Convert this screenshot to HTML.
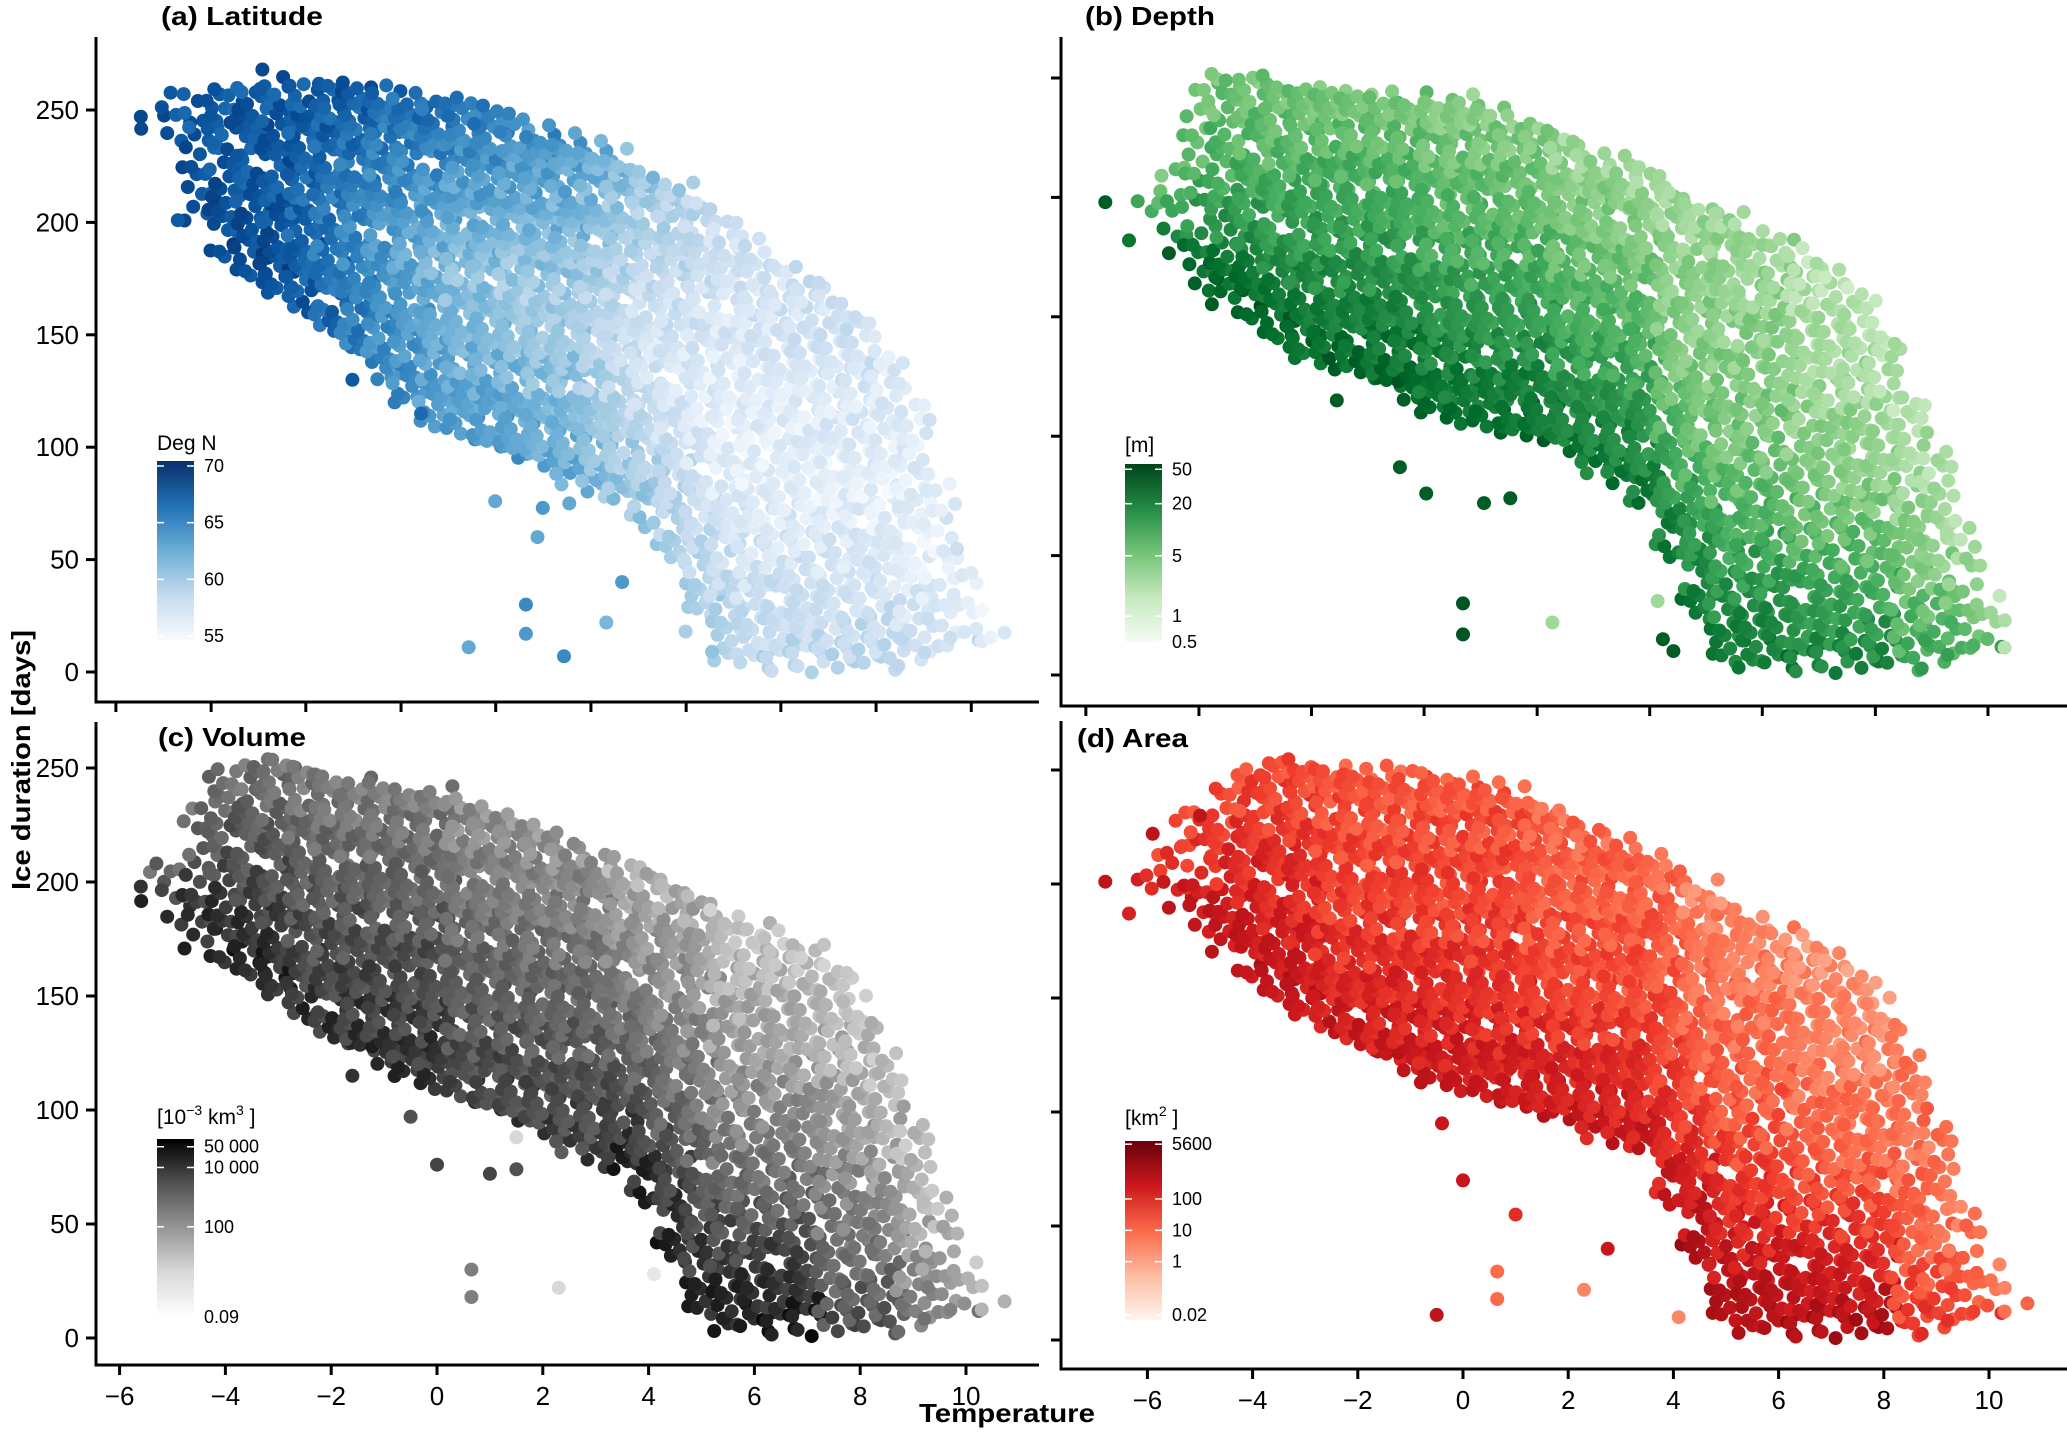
<!DOCTYPE html>
<html><head><meta charset="utf-8"><title>Ice duration vs temperature</title>
<style>
html,body{margin:0;padding:0;background:#fff;}
svg{display:block;font-family:"Liberation Sans",sans-serif;}
</style></head>
<body>
<svg id="chart" xmlns="http://www.w3.org/2000/svg" width="2067" height="1433" viewBox="0 0 2067 1433">
<defs>
<linearGradient id="gBlues" x1="0" y1="1" x2="0" y2="0"><stop offset="0" stop-color="#f7fbff"/><stop offset="0.25" stop-color="#c6dbef"/><stop offset="0.5" stop-color="#6baed6"/><stop offset="0.75" stop-color="#2171b5"/><stop offset="1" stop-color="#08306b"/></linearGradient>
<linearGradient id="gGreens" x1="0" y1="1" x2="0" y2="0"><stop offset="0" stop-color="#f7fcf5"/><stop offset="0.25" stop-color="#c7e9c0"/><stop offset="0.5" stop-color="#74c476"/><stop offset="0.75" stop-color="#238b45"/><stop offset="1" stop-color="#00441b"/></linearGradient>
<linearGradient id="gGreys" x1="0" y1="1" x2="0" y2="0"><stop offset="0" stop-color="#ffffff"/><stop offset="0.25" stop-color="#d9d9d9"/><stop offset="0.5" stop-color="#969696"/><stop offset="0.75" stop-color="#525252"/><stop offset="1" stop-color="#000000"/></linearGradient>
<linearGradient id="gReds" x1="0" y1="1" x2="0" y2="0"><stop offset="0" stop-color="#fff5f0"/><stop offset="0.25" stop-color="#fcbba1"/><stop offset="0.5" stop-color="#fb6a4a"/><stop offset="0.75" stop-color="#cb181d"/><stop offset="1" stop-color="#67000d"/></linearGradient>
</defs>
<g id="points"></g>
<g id="axes"></g>
<text x="919" y="1422" font-size="26" font-weight="bold" textLength="176" lengthAdjust="spacingAndGlyphs">Temperature</text>
<text transform="translate(30,890) rotate(-90)" font-size="26" font-weight="bold" textLength="260" lengthAdjust="spacingAndGlyphs">Ice duration [days]</text>
</svg>
<script>
// ---- data: temperature bins (°C) ----
const tBins=[-6,-5.5,-5,-4.5,-4,-3.5,-3,-2.5,-2,-1.5,-1,-0.5,0,0.5,1,1.5,2,2.5,3,3.5,4,4.5,5,5.5,6,6.5,7,7.5,8,8.5,9,9.5,10,10.5];
const yTicks=[0,50,100,150,200,250];
const xTicksLabeled=[-6,-4,-2,0,2,4,6,8,10];
const aXTicks=[-6.07,-4.27,-2.48,-0.68,1.11,2.91,4.71,6.50,8.30,10.10];
const bXTicks=[-7.17,-5.02,-2.88,-0.74,1.41,3.55,5.69,7.84,9.98];

// panel a: latitude
const aLo=[0,240,235,200,185,175,168,160,150,140,130,120,110,105,100,95,90,85,80,75,65,50,25,5,2,2,2,2,2,2,5,8,10,8];
const aHi=[0,250,258,258,262,262,262,262,262,262,260,258,256,254,250,246,242,238,234,230,224,218,210,202,193,183,175,168,158,142,120,85,55,25];
const aDen=[0,0.3,0.4,0.55,0.75,0.9,1,1,1,1,1,1,1,1,1,1,1,1,1,1,1,0.95,0.85,0.8,0.8,0.8,0.8,0.8,0.8,0.8,0.75,0.55,0.4,0.3];
const aCLo=[69,69,69,69,69,69,69,68,67,66,65,65,64,64,64,64,63,63,62,61,61,60,60,60,59,59,59,59,59,59,58,58,58,58];
const aCMid=[68,68,68,68,68,68,68,67,66,65,64,63,62,61,61,60,60,60,59,58,57,57,56.5,56,56,56,56,56,56,56,56,56,56,56];
const aCHi=[68,68,68,68,68,68,68,68,68,68,67,67,67,66,66,65,65,64,63,62,61,60,59,58,58,58,58,58,58,57,57,57,57,57];
const aOut=[[-5.6,247,69],[-4.9,201,68],[-3.3,268,69],[-1.6,130,68],[0.6,11,63],[1.68,30,65],[1.68,17,64],[2.4,7,65],[3.5,40,64],[3.2,22,62],[1.9,60,63],[1.1,76,63],[-0.3,115,67],[2.0,73,64],[2.5,75,63],[4.7,18,60],[5.2,9,61]];

// panel b: depth [m]
const bLo=[185,175,160,155,150,140,132,128,125,120,115,110,106,103,100,98,92,86,80,70,50,25,5,3,3,3,3,3,3,3,5,8,8,8];
const bHi=[205,215,248,252,252,250,248,246,244,243,243,242,242,238,234,230,225,220,216,210,204,198,194,189,184,178,170,162,145,118,95,65,35,12];
const bDen=[0.3,0.45,0.6,0.8,0.95,1,1,1,1,1,1,1,1,1,1,1,1,1,1,1,1,0.95,0.85,0.8,0.8,0.8,0.8,0.8,0.8,0.8,0.75,0.6,0.45,0.3];
const bCLo=[40,40,40,40,40,40,35,35,35,35,35,30,30,30,30,30,25,25,25,25,25,25,25,25,25,20,20,20,20,10,10,10,10,10];
const bCMid=[10,10,10,10,10,10,12,12,12,12,12,10,10,10,10,10,8,8,8,8,5,5,5,5,5,4,4,4,4,4,4,4,4,4];
const bCHi=[5,5,5,5,5,5,5,5,5,5,5,4,4,4,4,4,3,3,3,3,3,3,3,3,3,2,2,2,2,2,2,2,2,2];
const bOut=[[-6.8,198,40],[0,30,45],[0,17,45],[1.7,22,3],[-0.7,76,40],[0.4,72,40],[0.9,74,40],[-2.4,115,40],[3.7,31,3],[-1.2,87,40],[3.8,15,40],[4.0,10,40]];

// panel c: volume [1e-3 km3]
const cLo=[0,190,180,170,165,158,150,140,130,125,120,115,110,105,100,95,88,83,78,72,60,35,10,3,3,3,3,3,3,3,5,8,8,8];
const cHi=[0,205,210,235,250,254,254,250,247,245,243,241,240,236,232,228,224,218,213,208,203,198,193,188,182,178,172,165,148,125,95,65,35,15];
const cDen=[0,0.3,0.4,0.55,0.75,0.9,1,1,1,1,1,1,1,1,1,1,1,1,1,1,1,0.95,0.85,0.8,0.8,0.8,0.8,0.8,0.8,0.8,0.75,0.6,0.45,0.3];
const cCLo=[20000,20000,20000,20000,20000,20000,20000,10000,10000,10000,10000,10000,10000,5000,5000,5000,5000,5000,5000,20000,20000,20000,20000,30000,30000,30000,30000,3000,3000,3000,300,300,300,300];
const cCMid=[3000,3000,3000,3000,3000,3000,3000,2000,2000,2000,2000,2000,2000,1000,1000,1000,1000,1000,1000,500,500,500,500,200,200,200,200,100,100,100,50,50,50,50];
const cCHi=[500,500,500,500,500,500,500,300,300,300,300,300,300,100,100,100,100,100,100,30,30,30,30,10,10,10,10,10,10,10,10,10,10,10];
const cOut=[[-5.6,198,10000],[0.65,30,300],[0.65,18,300],[2.3,22,3],[4.1,28,1],[0.0,76,5000],[1.0,72,5000],[1.5,74,3000],[-0.5,97,3000],[1.5,88,3],[-1.6,115,10000]];

// panel d: area [km2]
const dLo=[190,188,178,170,160,150,142,135,128,122,118,113,110,106,102,98,95,90,86,82,60,35,8,3,3,3,3,3,3,3,5,8,8,8];
const dHi=[212,225,235,245,252,254,254,252,251,250,250,248,246,243,240,236,230,225,220,213,207,200,193,187,181,176,170,162,148,125,95,60,35,15];
const dDen=[0.3,0.4,0.55,0.75,0.9,1,1,1,1,1,1,1,1,1,1,1,1,1,1,1,1,0.95,0.85,0.8,0.8,0.8,0.8,0.8,0.8,0.8,0.75,0.6,0.45,0.3];
const dCLo=[500,500,500,500,500,500,500,300,300,300,300,300,300,300,300,300,300,300,300,300,300,1000,1000,1000,1000,1000,1000,1000,1000,50,50,50,50,50];
const dCMid=[100,100,100,100,100,100,100,50,50,50,50,50,50,50,50,30,30,30,30,30,30,20,20,20,20,10,10,10,10,10,10,10,10,10];
const dCHi=[30,30,30,30,30,30,30,20,20,20,20,20,20,20,20,10,10,10,10,10,10,3,3,3,3,2,2,2,2,5,5,5,5,5];
const dOut=[[-6.8,201,500],[-5.9,222,500],[-5.0,230,500],[-0.5,11,500],[0.65,18,10],[0.65,30,10],[2.3,22,3],[2.75,40,300],[1.0,55,100],[0.0,70,300],[4.1,10,3],[-0.4,95,300]];

const aBarTicks=[70,65,60,55];
const bBarTicks=[50,20,5,1,0.5];
const cBarTicks=[50000,10000,100,0.09];
const cBarLabels=['50 000','10 000','100','0.09'];
const dBarTicks=[5600,100,10,1,0.02];

const BLUES=['#f7fbff','#deebf7','#c6dbef','#9ecae1','#6baed6','#4292c6','#2171b5','#08519c','#08306b'];
const GREENS=['#f7fcf5','#e5f5e0','#c7e9c0','#a1d99b','#74c476','#41ab5d','#238b45','#006d2c','#00441b'];
const GREYS=['#ffffff','#f0f0f0','#d9d9d9','#bdbdbd','#969696','#737373','#525252','#252525','#000000'];
const REDS=['#fff5f0','#fee0d2','#fcbba1','#fc9272','#fb6a4a','#ef3b2c','#cb181d','#a50f15','#67000d'];

const NS='http://www.w3.org/2000/svg';
function mk(tag,attrs,parent){const e=document.createElementNS(NS,tag);for(const k in attrs)e.setAttribute(k,attrs[k]);parent.appendChild(e);return e;}
function hex(h){return [parseInt(h.slice(1,3),16),parseInt(h.slice(3,5),16),parseInt(h.slice(5,7),16)];}
function palColor(pal,f){f=Math.max(0,Math.min(1,f));const p=f*(pal.length-1);const i=Math.min(pal.length-2,Math.floor(p));const r=p-i;const a=hex(pal[i]),b=hex(pal[i+1]);return 'rgb('+a.map((v,k)=>Math.round(v+(b[k]-v)*r)).join(',')+')';}
function frac(x){return x-Math.floor(x);}

const panels=[
 {key:'a',lo:aLo,hi:aHi,den:aDen,cl:aCLo,cm:aCMid,ch:aCHi,out:aOut,pal:BLUES,grad:'gBlues',log:false,dom:[54.65,70.44],x0:437,kx:52.9,y0:672,ky:2.248,ax:96,top:37,bot:702,right:1039,xt:aXTicks,xLab:false,yLab:true,bar:[157,461,194,640],bt:aBarTicks,bl:aBarTicks.map(String),title:'(a) Latitude',tx:161,ty:25,tw:162,cbt:'Deg N',cbty:450},
 {key:'b',lo:bLo,hi:bHi,den:bDen,cl:bCLo,cm:bCMid,ch:bCHi,out:bOut,pal:GREENS,grad:'gGreens',log:true,dom:[-0.31,1.76],x0:1463,kx:52.6,y0:675,ky:2.388,ax:1061,top:37,bot:706,right:2067,xt:bXTicks,xLab:false,yLab:false,bar:[1125,464,1162,643],bt:bBarTicks,bl:bBarTicks.map(String),title:'(b) Depth',tx:1085,ty:25,tw:130,cbt:'[m]',cbty:452},
 {key:'c',lo:cLo,hi:cHi,den:cDen,cl:cCLo,cm:cCMid,ch:cCHi,out:cOut,pal:GREYS,grad:'gGreys',log:true,dom:[-1.04,4.96],x0:437,kx:52.9,y0:1338,ky:2.28,ax:96,top:722,bot:1365,right:1039,xt:xTicksLabeled,xLab:true,yLab:true,bar:[157,1139,194,1317],bt:cBarTicks,bl:cBarLabels,title:'(c) Volume',tx:158,ty:746,tw:148,cbt:'c',cbty:1124},
 {key:'d',lo:dLo,hi:dHi,den:dDen,cl:dCLo,cm:dCMid,ch:dCHi,out:dOut,pal:REDS,grad:'gReds',log:true,dom:[-1.86,3.85],x0:1463,kx:52.6,y0:1340,ky:2.28,ax:1061,top:721,bot:1369,right:2067,xt:xTicksLabeled,xLab:true,yLab:false,bar:[1125,1141,1162,1320],bt:dBarTicks,bl:dBarTicks.map(String),title:'(d) Area',tx:1077,ty:747,tw:111,cbt:'d',cbty:1125}
];

const gPts=document.getElementById('points');
const gAx=document.getElementById('axes');

panels.forEach(P=>{
  const X=t=>P.x0+P.kx*t;
  const Y=d=>P.y0-P.ky*d;
  const tv=v=>P.log?Math.log10(v):v;
  const norm=v=>(tv(v)-P.dom[0])/(P.dom[1]-P.dom[0]);
  const g=mk('g',{},gPts);
  
  
  tBins.forEach((t,i)=>{
    const lo=P.lo[i],hi=P.hi[i];
    if(hi<=lo)return;
    const N=Math.max(1,Math.round((hi-lo)*P.den[i]*0.72));
    const vl=tv(P.cl[i]),vm=tv(P.cm[i]),vh=tv(P.ch[i]);
    for(let j=0;j<N;j++){
      const q=Math.max(0,Math.min(1,(j+0.5+(frac(j*0.7548+i*0.21)-0.5)*2.2)/N));
      const d=lo+(hi-lo)*q+(frac(j*0.3183+i*0.77)-0.5)*6;
      const tt=t+(frac(j*0.618034+i*0.37)-0.5)*0.7;
      const v=q<0.5?vl+(vm-vl)*q*2:vm+(vh-vm)*(q-0.5)*2;
      const f=(v-P.dom[0])/(P.dom[1]-P.dom[0])+(frac(j*0.4142+i*0.53)-0.5)*0.16;
      const c=mk('circle',{cx:X(tt).toFixed(1),cy:Y(d).toFixed(1),r:7,fill:palColor(P.pal,f)},g);
      
      
    }
  });
  P.out.forEach(o=>{
    const c=mk('circle',{cx:X(o[0]).toFixed(1),cy:Y(o[1]).toFixed(1),r:7,fill:palColor(P.pal,norm(o[2]))},g);
    
    
  });

  const ax=mk('g',{stroke:'#000','stroke-width':3,fill:'none'},gAx);
  
  
  const yl=mk('line',{x1:P.ax,y1:P.top,x2:P.ax,y2:P.bot+1.5},ax);
  
  
  const xl=mk('line',{x1:P.ax-1.5,y1:P.bot,x2:P.right,y2:P.bot},ax);
  
  
  yTicks.forEach(v=>{
    const tk=mk('line',{x1:P.ax-10,y1:Y(v),x2:P.ax,y2:Y(v)},ax);
    
    
    if(P.yLab){
      const tx=mk('text',{x:P.ax-17,y:Y(v)+9,'text-anchor':'end','font-size':26,fill:'#000',stroke:'none'},gAx);
      
      
      tx.textContent=v;
    }
  });
  P.xt.forEach(v=>{
    const tk=mk('line',{x1:X(v),y1:P.bot,x2:X(v),y2:P.bot+10},ax);
    
    
    if(P.xLab){
      const tx=mk('text',{x:X(v),y:P.bot+40,'text-anchor':'middle','font-size':26,fill:'#000'},gAx);
      
      
      tx.textContent=v<0?'\u2212'+Math.abs(v):String(v);
    }
  });
  const ti=mk('text',{x:P.tx,y:P.ty,'font-size':26,'font-weight':'bold',textLength:P.tw,lengthAdjust:'spacingAndGlyphs'},gAx);
  
  
  ti.textContent=P.title;
  const [bx0,by0,bx1,by1]=P.bar;
  const rb=mk('rect',{x:bx0,y:by0,width:bx1-bx0,height:by1-by0,fill:'url(#'+P.grad+')'},gAx);
  
  
  P.bt.forEach((v,k)=>{
    const y=by1-(by1-by0)*norm(v);
    mk('line',{x1:bx0,y1:y,x2:bx0+7,y2:y,stroke:'#fff','stroke-width':1.5},gAx);
    mk('line',{x1:bx1-7,y1:y,x2:bx1,y2:y,stroke:'#fff','stroke-width':1.5},gAx);
    const tx=mk('text',{x:bx1+10,y:y+6,'font-size':18,fill:'#000'},gAx);
    
    
    tx.textContent=P.bl[k];
  });
  const ct=mk('text',{x:bx0,y:P.cbty,'font-size':21,fill:'#000'},gAx);
  
  
  if(P.cbt==='c'){
    ct.innerHTML='[10<tspan dy="-9" font-size="14">\u22123</tspan><tspan dy="9"> km</tspan><tspan dy="-9" font-size="14">3</tspan><tspan dy="9"> ]</tspan>';
  }else if(P.cbt==='d'){
    ct.innerHTML='[km<tspan dy="-9" font-size="14">2</tspan><tspan dy="9"> ]</tspan>';
  }else{
    ct.textContent=P.cbt;
  }
});
</script>
</body></html>
